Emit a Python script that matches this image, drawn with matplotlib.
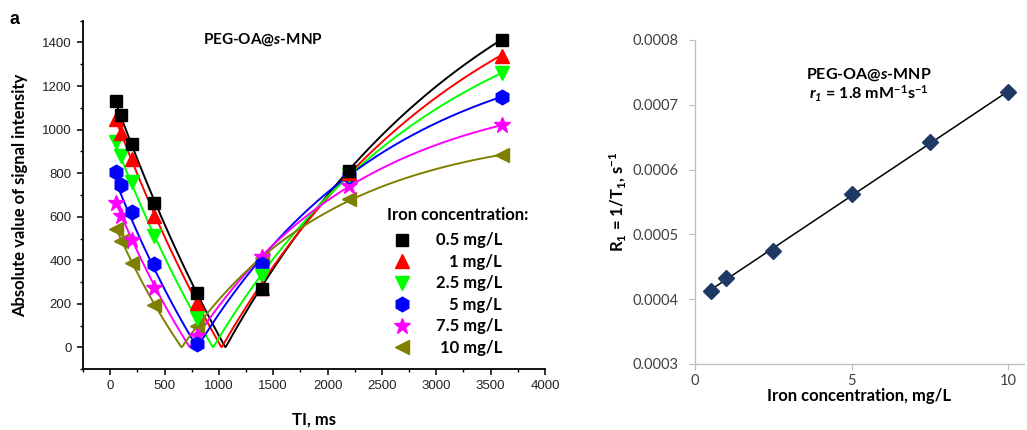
import numpy as np
import matplotlib
matplotlib.use("Agg")
import matplotlib.pyplot as plt
from matplotlib.lines import Line2D
from matplotlib.ticker import MultipleLocator, FormatStrFormatter

plt.rcParams["font.family"] = ["Lato", "DejaVu Sans"]
plt.rcParams["mathtext.fontset"] = "custom"
plt.rcParams["mathtext.rm"] = "Lato:bold"
plt.rcParams["mathtext.bf"] = "Lato:bold"
plt.rcParams["mathtext.it"] = "Lato:italic:bold"
plt.rcParams["mathtext.bfit"] = "Lato:italic:bold"

# ---- data: inversion recovery signal (panel a, left) ----
ti = [50, 100, 200, 400, 800, 1400, 2200, 3600]
conc_labels = ["0.5 mg/L", "1 mg/L", "2.5 mg/L", "5 mg/L", "7.5 mg/L", "10 mg/L"]
sig_05 = [1130, 1065, 935, 665, 249, 270, 810, 1410]
sig_1 = [1050, 985, 865, 605, 203, 272, 800, 1340]
sig_25 = [945, 880, 760, 510, 135, 326, 790, 1260]
sig_5 = [805, 745, 620, 385, 18, 385, 785, 1150]
sig_75 = [665, 605, 495, 275, 54, 415, 740, 1020]
sig_10 = [545, 490, 390, 195, 100, 410, 680, 885]

# fit |A - B*exp(-TI*R1)| for each concentration
fit_a = [2175, 1997, 1758, 1451, 1213, 1006]
fit_b = [3370, 3112, 2756, 2278, 1943, 1614]

# ---- data: relaxivity (right) ----
conc = [0.5, 1, 2.5, 5, 7.5, 10]
r1 = [0.000413, 0.000433, 0.000475, 0.000563, 0.000642, 0.000719]

colors = ["#000000", "#ff0000", "#00ff00", "#0000ff", "#ff00ff", "#808000"]
markers = ["s", "^", "v", "h", "*", "<"]
msizes = [9, 10.5, 10.5, 10.5, 12, 10.5]
signals = [sig_05, sig_1, sig_25, sig_5, sig_75, sig_10]

fig = plt.figure(figsize=(10.27, 4.30), dpi=100)

# ---------------- left panel ----------------
ax1 = fig.add_axes([0.0808, 0.1412, 0.4499, 0.8107])
t_fit = np.linspace(ti[0], ti[-1], 600)
for a, b, r, c in zip(fit_a, fit_b, r1, colors):
    ax1.plot(t_fit, np.abs(a - b * np.exp(-t_fit * r)), color=c, lw=1.4, zorder=2)
for i, (y, c, m, s) in enumerate(zip(signals, colors, markers, msizes)):
    ax1.plot(ti, y, ls="none", marker=m, ms=s, color=c, mec=c, zorder=10 - i)

ax1.set_xlim(-250, 4000)
ax1.set_ylim(-100, 1500)
ax1.xaxis.set_major_locator(MultipleLocator(500))
ax1.xaxis.set_minor_locator(MultipleLocator(250))
ax1.yaxis.set_major_locator(MultipleLocator(200))
ax1.yaxis.set_minor_locator(MultipleLocator(100))
for side in ["top", "right"]:
    ax1.spines[side].set_visible(False)
for side in ["left", "bottom"]:
    ax1.spines[side].set_linewidth(1.3)
ax1.tick_params(which="major", direction="out", length=4, width=1.1, pad=4,
                labelsize=9.5, labelcolor="#222222")
ax1.tick_params(which="minor", direction="out", length=2.5, width=1.0)
for lab in ax1.get_xticklabels() + ax1.get_yticklabels():
    lab.set_family("Liberation Sans")

ax1.set_xlabel("TI, ms", fontsize=12, fontweight="bold", labelpad=14)
ax1.set_ylabel("Absolute value of signal intensity", fontsize=12, fontweight="bold", labelpad=10)
ax1.text(0.389, 0.9447, r"PEG-OA@$\mathbfit{s}$-MNP", transform=ax1.transAxes,
         ha="center", va="center", fontsize=11, fontweight="bold")

handles = [Line2D([], [], ls="none", marker=m, ms=s, color=c) for c, m, s in zip(colors, markers, msizes)]
leg = ax1.legend(handles, conc_labels, title="Iron concentration:", loc="upper left",
                 bbox_to_anchor=(0.639, 0.478), frameon=False, alignment="left",
                 prop={"size": 12, "weight": "bold"},
                 title_fontproperties={"size": 12, "weight": "bold"},
                 handlelength=1.9, handletextpad=1.05, labelspacing=0.33, borderpad=0)

fig.text(15 / 1027, 1 - 20 / 430, "a", ha="center", va="center", fontsize=13,
         fontweight="bold", family="Liberation Sans")

# ---------------- right panel ----------------
ax2 = fig.add_axes([0.6767, 0.1535, 0.3204, 0.7535])
coef = np.polyfit(conc, r1, 1)
ends = np.array([conc[0], conc[-1]])
ax2.plot(ends, np.polyval(coef, ends), color="black", lw=1.1, zorder=2)
ax2.plot(conc, r1, ls="none", marker="D", ms=8, color="#1f3864", zorder=3)

ax2.set_xlim(0, 10.5)
ax2.set_ylim(0.0003, 0.0008)
ax2.set_xticks([0, 5, 10])
ax2.yaxis.set_major_locator(MultipleLocator(0.0001))
ax2.yaxis.set_major_formatter(FormatStrFormatter("%.4f"))
for side in ["top", "right"]:
    ax2.spines[side].set_visible(False)
for side in ["left", "bottom"]:
    ax2.spines[side].set_color("#bfbfbf")
    ax2.spines[side].set_linewidth(1.0)
ax2.tick_params(axis="y", direction="out", length=4.5, color="#bfbfbf", pad=7,
                labelsize=10.5, labelcolor="#404040")
ax2.tick_params(axis="x", direction="out", length=4.5, color="#bfbfbf", pad=3,
                labelsize=10.5, labelcolor="#404040")
ax2.set_xlabel("Iron concentration, mg/L", fontsize=12, fontweight="bold", labelpad=0)
ax2.set_ylabel(r"R$_\mathbf{1}$ = 1/T$_\mathbf{1}$, s$^\mathbf{-1}$", fontsize=12,
               fontweight="bold", labelpad=3)
ax2.text(0.529, 0.892, r"PEG-OA@$\mathbfit{s}$-MNP", transform=ax2.transAxes,
         ha="center", va="center", fontsize=11.5, fontweight="bold")
ax2.text(0.529, 0.833, r"$\mathbfit{r}_\mathbfit{1}$ = 1.8 mM$^\mathbf{-1}$s$^\mathbf{-1}$",
         transform=ax2.transAxes, ha="center", va="center", fontsize=11.5, fontweight="bold")

# right-align the legend labels like the original, lift the title a little
fig.canvas.draw()
rend = fig.canvas.get_renderer()
widths = [t.get_window_extent(rend).width for t in leg.get_texts()]
for t, w in zip(leg.get_texts(), widths):
    t.set_x(max(widths) - w)
leg.get_title().set_y(4)

fig.savefig("out.png", dpi=100)
